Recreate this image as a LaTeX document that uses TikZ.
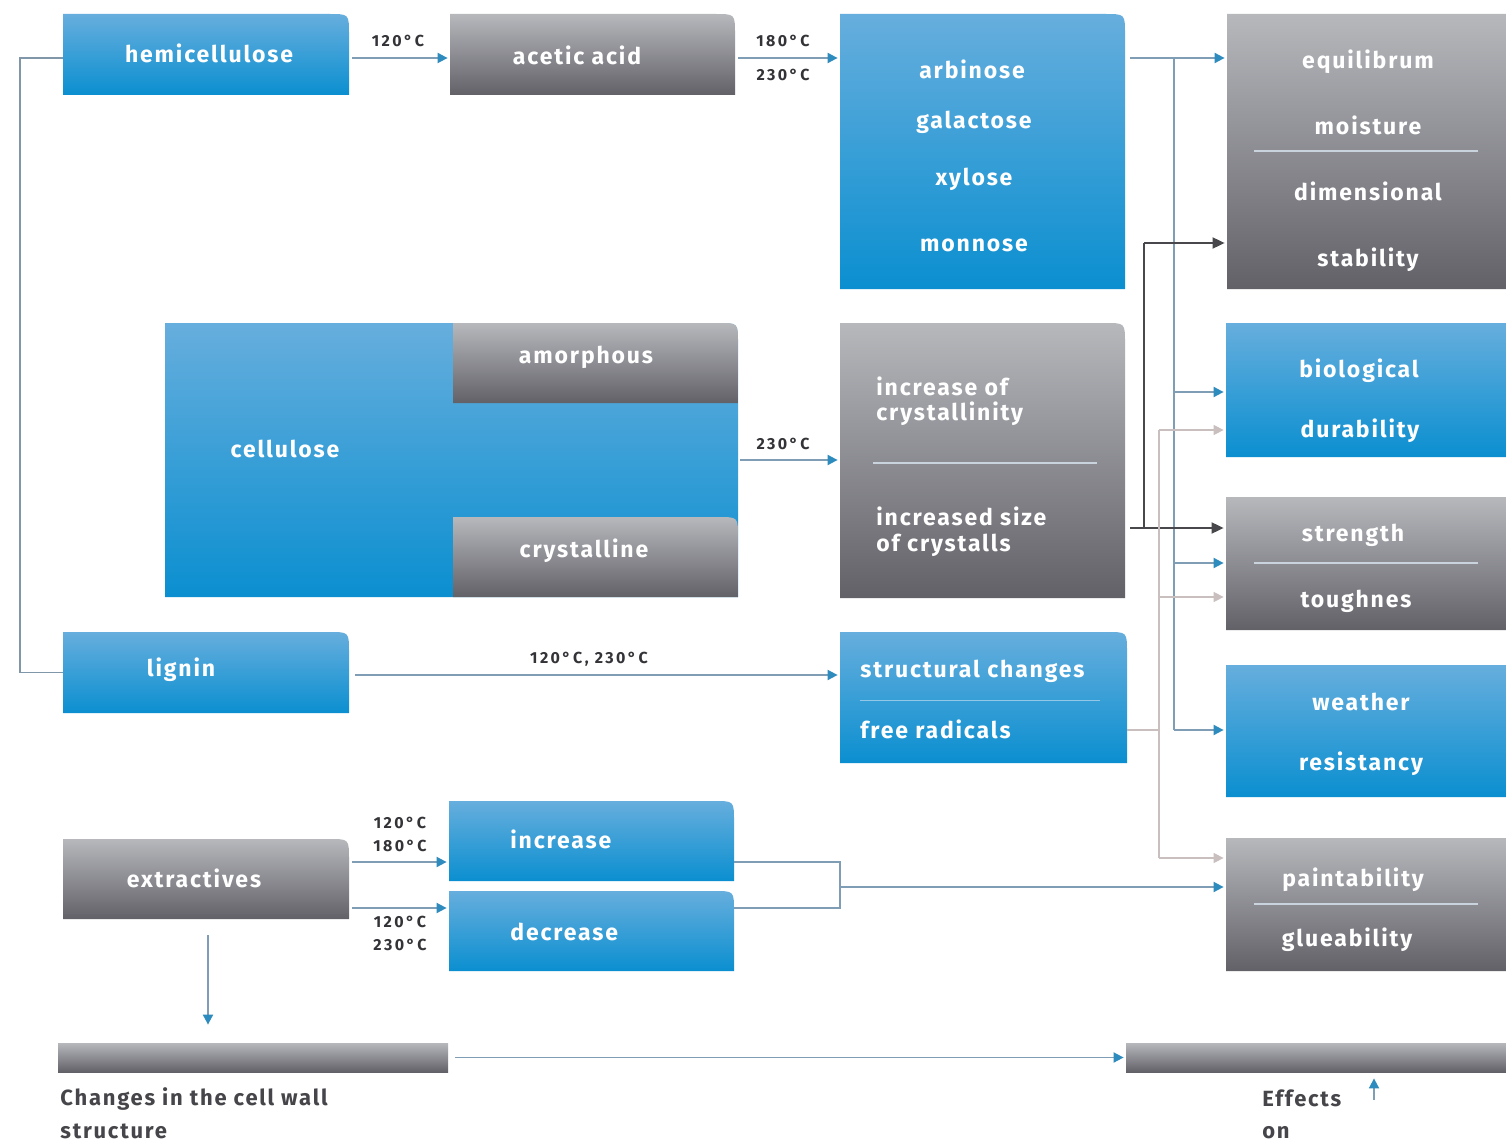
\documentclass[tikz,border=0pt]{standalone}
\usepackage{fontspec}
\setmainfont{Fira Sans}
\newfontfamily\boxf[LetterSpace=8]{Fira Sans}
\newfontfamily\labf[LetterSpace=15]{Fira Sans}
\newfontfamily\capf[LetterSpace=8]{Fira Sans}
\usetikzlibrary{arrows.meta,fit,calc}
\definecolor{bluetop}{HTML}{66AEDD}
\definecolor{bluebot}{HTML}{0B8FD0}
\definecolor{graytop}{HTML}{B6B8BC}
\definecolor{graybot}{HTML}{626168}
\definecolor{linec}{HTML}{7F9DB4}
\definecolor{arrowblue}{HTML}{2E8BBD}
\definecolor{darkc}{HTML}{48484C}
\definecolor{lightc}{HTML}{C9BFBF}
\definecolor{sepc}{HTML}{C9D3DE}
\definecolor{labelc}{HTML}{333338}
\definecolor{capc}{HTML}{45454A}
\newcommand\panel[6]{%
  \shade[#2] (#3,#6) -- (#3,#4) -- ({#5-20},#4) .. controls (#5,#4) .. (#5,{#4+20}) -- (#5,#6) -- cycle;
  \path (#3,#4) coordinate (#1-a) (#5,#6) coordinate (#1-b);
  \node[fit=(#1-a)(#1-b), inner sep=0pt] (#1) {};
}
\newcommand\flatpanel[5]{%
  \shade[grayfill] (#2,#3) rectangle (#4,#5);
  \path (#2,#3) coordinate (#1-a) (#4,#5) coordinate (#1-b);
  \node[fit=(#1-a)(#1-b), inner sep=0pt] (#1) {};
}
\begin{document}
\begin{tikzpicture}[x=0.5pt,y=-0.5pt,
  bluefill/.style={top color=bluetop,bottom color=bluebot},
  grayfill/.style={top color=graytop,bottom color=graybot},
  bt/.style={text=white,font=\boxf\bfseries\fontsize{11.5}{13}\selectfont,inner sep=0pt,anchor=base},
  btl/.style={bt,anchor=base west},
  tl/.style={text=labelc,font=\labf\bfseries\fontsize{8}{10}\selectfont,inner sep=0pt,anchor=base},
  captxt/.style={text=capc,font=\capf\bfseries\fontsize{11}{13}\selectfont,inner sep=0pt,anchor=base west},
  sepline/.style={draw=sepc,line width=0.8pt},
  bl/.style={draw=linec,line width=0.9pt,-{Triangle[length=5pt,width=5pt,color=arrowblue]},shorten >=1pt},
  blplain/.style={draw=linec,line width=0.9pt},
  dk/.style={draw=darkc,line width=0.9pt,-{Triangle[length=6pt,width=5.5pt]},shorten >=1pt},
  dkplain/.style={draw=darkc,line width=0.9pt},
  lt/.style={draw=lightc,line width=0.7pt,-{Triangle[length=5pt,width=5pt]},shorten >=1pt},
  ltplain/.style={draw=lightc,line width=0.7pt},
  gl/.style={draw=linec!80!gray,line width=0.8pt}
]
\useasboundingbox (0,0) rectangle (1506,1145);
\clip (0,0) rectangle (1506,1145);
\fill[white] (0,0) rectangle (1506,1145);

% ---------- panels ----------
\panel{hemi}{bluefill}{63}{14}{349}{95}
\panel{acetic}{grayfill}{450}{14}{735}{95}
\panel{sug}{bluefill}{840}{14}{1125}{289}
\panel{equ}{grayfill}{1227}{14}{1526}{289}
\panel{cell}{bluefill}{165}{323}{738}{597}
\panel{amor}{grayfill}{453}{323}{738}{403}
\panel{crys}{grayfill}{453}{517}{738}{597}
\panel{cry}{grayfill}{840}{323}{1125}{598}
\panel{bio}{bluefill}{1226}{323}{1516}{457}
\panel{str}{grayfill}{1226}{497}{1516}{630}
\panel{lig}{bluefill}{63}{632}{349}{713}
\panel{strc}{bluefill}{840}{632}{1127}{763}
\panel{wea}{bluefill}{1226}{665}{1516}{797}
\panel{extr}{grayfill}{63}{839}{349}{919}
\panel{inc}{bluefill}{449}{801}{734}{881}
\panel{dec}{bluefill}{449}{891}{734}{971}
\panel{paint}{grayfill}{1226}{838}{1516}{971}
\flatpanel{barL}{58}{1043}{448}{1072}
\flatpanel{barR}{1126}{1043}{1520}{1072}

% ---------- separators ----------
\draw[sepline] (1254,151) -- (1478,151);
\draw[sepline] (873,463) -- (1097,463);
\draw[sepline] (1254,563) -- (1478,563);
\draw[sepline] (1254,904) -- (1478,904);
\draw[draw=bluetop!70!white,line width=0.5pt] (860,700) -- (1100,700);

% ---------- texts ----------
\node[bt] (t-hemi) at (209,63) {hemicellulose};
\node[bt] (t-acetic) at (577,65) {acetic acid};
\node[bt] (t-arb) at (972,79) {arbinose};
\node[bt] (t-gal) at (974,129) {galactose};
\node[bt] (t-xyl) at (974,185) {xylose};
\node[bt] (t-mon) at (974,251) {monnose};
\node[bt] (t-equ) at (1368,69) {equilibrum};
\node[bt] (t-moi) at (1368,135) {moisture};
\node[bt] (t-dim) at (1368,200) {dimensional};
\node[bt] (t-sta) at (1368,266) {stability};
\node[bt] (t-cell) at (285,457) {cellulose};
\node[bt] (t-amor) at (586,363) {amorphous};
\node[bt] (t-crys) at (584,557) {crystalline};
\node[btl] (t-inc1) at (876,395) {increase of};
\node[btl] (t-inc2) at (876,420) {crystallinity};
\node[btl] (t-siz1) at (876,525) {increased size};
\node[btl] (t-siz2) at (876,551) {of crystalls};
\node[bt] (t-bio) at (1359,377) {biological};
\node[bt] (t-dur) at (1360,437) {durability};
\node[bt] (t-str) at (1353,541) {strength};
\node[bt] (t-tou) at (1356,607) {toughnes};
\node[bt] (t-lig) at (181,676) {lignin};
\node[btl] (t-stc) at (860,677) {structural changes};
\node[btl] (t-fre) at (860,738) {free radicals};
\node[bt] (t-wea) at (1361,710) {weather};
\node[bt] (t-res) at (1361,770) {resistancy};
\node[bt] (t-ext) at (194,887) {extractives};
\node[btl] (t-inc) at (510,848) {increase};
\node[btl] (t-dec) at (510,940) {decrease};
\node[bt] (t-pai) at (1353,886) {paintability};
\node[bt] (t-glu) at (1347,946) {glueability};

% temperature labels
\node[tl] (l1) at (398,47) {120°C};
\node[tl] (l2) at (783,47) {180°C};
\node[tl] (l3) at (783,81) {230°C};
\node[tl] (l4) at (783,449) {230°C};
\node[tl] (l5) at (589,663) {120°C, 230°C};
\node[tl] (l6) at (400,828) {120°C};
\node[tl] (l7) at (400,851) {180°C};
\node[tl] (l8) at (400,927) {120°C};
\node[tl] (l9) at (400,950) {230°C};

% captions
\node[captxt] (c1) at (60,1105) {Changes in the cell wall};
\node[captxt] (c2) at (60,1138) {structure};
\node[captxt] (c3) at (1262,1106) {Effects};
\node[captxt] (c4) at (1262,1138) {on};

% ---------- connectors ----------
\draw[bl,shorten <=1.5pt] ([yshift=-1.75pt]hemi.east) -- ([yshift=-1.75pt]hemi.east -| acetic.west);
\draw[bl,shorten <=1.5pt] ([yshift=-1.75pt]acetic.east) -- ([yshift=-1.75pt]acetic.east -| sug.west);
\draw[bl,shorten <=1pt] (cell.east) -- (cell.east -| cry.west);
\draw[bl,shorten <=3pt] ([yshift=-1.25pt]lig.east) -- ([yshift=-1.25pt]lig.east -| strc.west);
\draw[bl,shorten <=1.5pt] ([yshift=8.5pt]extr.east) -- ([yshift=8.5pt]extr.east -| inc.west);
\draw[bl,shorten <=1.5pt] ([yshift=-14.5pt]extr.east) -- ([yshift=-14.5pt]extr.east -| dec.west);

% left bracket hemicellulose - lignin
\coordinate (lx) at (20,0);
\draw[gl] ([yshift=-1.75pt]hemi.west) -- ([yshift=-1.75pt]hemi.west -| lx) |- (lig.west);

% increase / decrease bracket
\coordinate (bt) at (840,862);
\coordinate (bb) at (840,908);
\coordinate (bm) at (840,887);
\draw[blplain] ([yshift=-10.5pt]inc.east) -- (bt) -- (bb) -- ([yshift=11.5pt]dec.east);
\draw[bl] (bm) -- (bm -| paint.west);

% extractives down, bottom bars
\draw[bl,shorten <=8pt,shorten >=9pt] ([xshift=1pt]extr.south) -- ([xshift=1pt]extr.south |- barL.north);
\draw[bl,shorten <=3.5pt] (barL.east) -- (barL.east -| barR.west);
\coordinate (effup) at (1374,1100);
\draw[bl,shorten >=3pt] (effup) -- (effup |- barR.south);

% blue lane
\coordinate (bA) at (1174,58);
\coordinate (bB) at (1174,392);
\coordinate (bC) at (1174,563);
\coordinate (bD) at (1174,730);
\draw[bl,shorten <=2.5pt] (sug.east |- bA) -- (bA -| equ.west);
\draw[blplain] (bA) -- (bD);
\draw[bl] (bB) -- (bB -| bio.west);
\draw[bl] (bC) -- (bC -| str.west);
\draw[bl] (bD) -- (bD -| wea.west);

% dark lane
\coordinate (dA) at (1144,243);
\coordinate (dB) at (1144,528);
\draw[dk,shorten <=2.5pt] (cry.east |- dB) -- (dB -| str.west);
\draw[dkplain] (dB) -- (dA);
\draw[dk] (dA) -- (dA -| equ.west);

% light lane
\coordinate (lA) at (1159,430);
\coordinate (lB) at (1159,597);
\coordinate (lC) at (1159,858);
\coordinate (lD) at (1159,730);
\draw[ltplain] (strc.east |- lD) -- (lD);
\draw[ltplain] (lA) -- (lC);
\draw[lt] (lA) -- (lA -| bio.west);
\draw[lt] (lB) -- (lB -| str.west);
\draw[lt] (lC) -- (lC -| paint.west);
\end{tikzpicture}
\end{document}
